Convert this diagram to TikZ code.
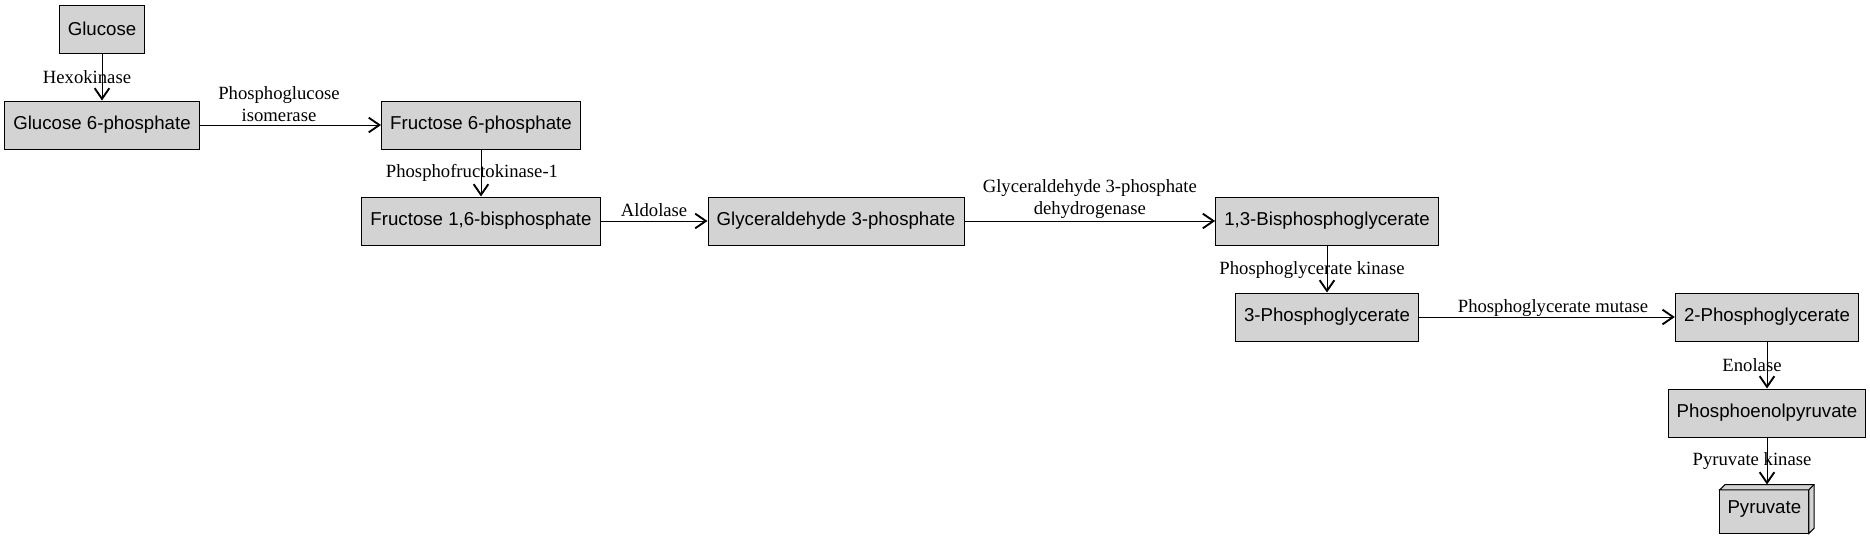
\documentclass[tikz,border=0pt]{standalone}
\usepackage{fontspec}
\setmainfont{Liberation Serif}
\newfontfamily\boxfont{Liberation Sans}
\usepackage{xcolor}
\usetikzlibrary{arrows.meta,positioning,backgrounds}
\definecolor{boxgray}{RGB}{211,211,211}

\begin{document}
\begin{tikzpicture}[
  x=0.75pt, y=-0.75pt,
  met/.style={rectangle, draw, fill=boxgray, line width=0.75pt, minimum height=36pt, inner xsep=6.5pt, font=\boxfont\fontsize{14}{16}\selectfont},
  rxn/.style={line width=0.75pt, -{Straight Barb[length=8pt,width=11pt,line width=1.4pt]}},
  enz/.style={inner sep=0pt, align=center, font=\fontsize{14}{16}\selectfont}
]
  \useasboundingbox (0,0) rectangle (1870,539);

  \node[met] (glc) at (102,29) {Glucose};
  \node[met] (g6p) at (102,125) {Glucose 6-phosphate};
  \node[met] (f6p) at (481,125) {Fructose 6-phosphate};
  \node[met] (fbp) at (481,221) {Fructose 1,6-bisphosphate};
  \node[met] (gap) at (836,221) {Glyceraldehyde 3-phosphate};
  \node[met] (bpg) at (1327,221) {1,3-Bisphosphoglycerate};
  \node[met] (pg3) at (1327,317) {3-Phosphoglycerate};
  \node[met] (pg2) at (1767,317) {2-Phosphoglycerate};
  \node[met] (pep) at (1767,413) {Phosphoenolpyruvate};
  \node[met, draw=none, fill=none, minimum width=70pt, inner xsep=6pt] (pyr) at (1767,509) {\hspace*{-4pt}\raisebox{-2pt}{Pyruvate}};

  % box3d look for the end product
  \begin{scope}[on background layer]
    \draw[fill=boxgray, line width=0.75pt] (pyr.south west) rectangle ([xshift=-4pt,yshift=-4pt]pyr.north east);
    \draw[fill=boxgray, line width=0.75pt] ([yshift=-4pt]pyr.north west) -- ([xshift=4pt]pyr.north west) -- (pyr.north east)
      -- ([yshift=4pt]pyr.south east) -- ([xshift=-4pt]pyr.south east) -- ([xshift=-4pt,yshift=-4pt]pyr.north east) -- cycle;
    \draw[line width=0.75pt] ([xshift=-4pt,yshift=-4pt]pyr.north east) -- (pyr.north east);
  \end{scope}

  \draw[rxn] (glc) -- (g6p) node[enz, midway, xshift=-11.25pt] {Hexokinase};
  \draw[rxn] (g6p) -- (f6p) node[enz, midway, xshift=-8.6pt, yshift=15.75pt] {Phosphoglucose\\isomerase};
  \draw[rxn] (f6p) -- (fbp) node[enz, midway, xshift=-6.75pt] {Phosphofructokinase-1};
  \draw[rxn] (fbp) -- (gap) node[enz, midway, yshift=8.25pt] {Aldolase};
  \draw[rxn] (gap) -- (bpg) node[enz, midway, yshift=16.5pt] {Glyceraldehyde 3-phosphate\\dehydrogenase};
  \draw[rxn] (bpg) -- (pg3) node[enz, midway, xshift=-11.25pt, yshift=-1pt] {Phosphoglycerate kinase};
  \draw[rxn] (pg3) -- (pg2) node[enz, midway, xshift=4.5pt, yshift=6.75pt] {Phosphoglycerate mutase};
  \draw[rxn] (pg2) -- (pep) node[enz, midway, xshift=-11.25pt] {Enolase};
  \draw[rxn] (pep) -- (pyr) node[enz, midway, xshift=-11.25pt] {Pyruvate kinase};
\end{tikzpicture}
\end{document}
